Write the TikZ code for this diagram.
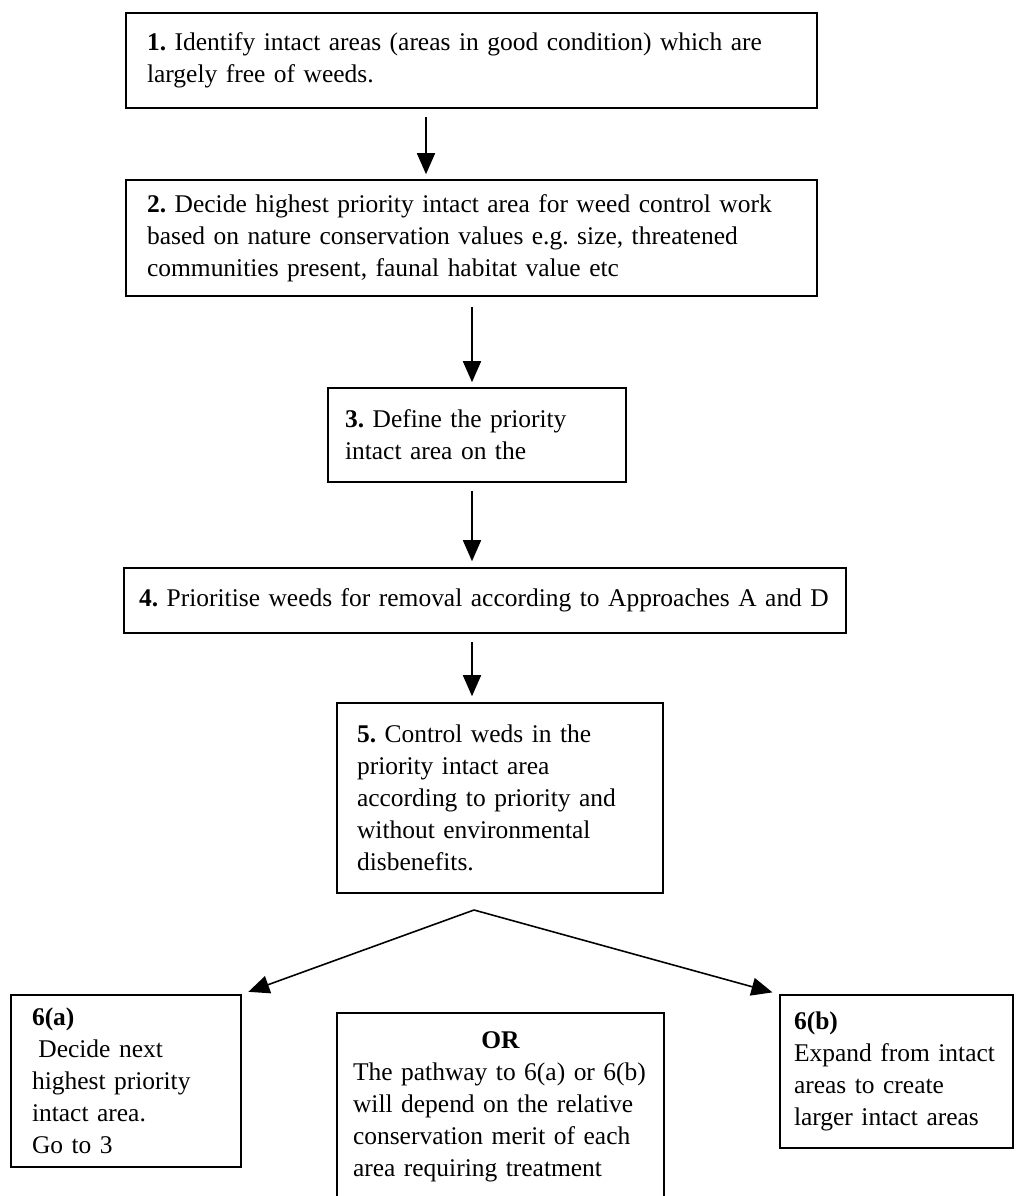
\documentclass[tikz,border=0pt]{standalone}
\usepackage{fontspec}
\setmainfont{Liberation Serif}
\usetikzlibrary{arrows.meta}

\begin{document}
\begin{tikzpicture}[x=0.02cm, y=-0.02cm,
  stepbox/.style={draw, line width=0.9pt, rectangle, align=left, inner ysep=0pt,
    font=\fontsize{14.5}{18.2}\selectfont\frenchspacing},
  arr/.style={line width=0.9pt, -{Triangle[length=0.42cm, width=0.36cm]}}]

  \useasboundingbox (0,0) rectangle (1016,1196);

  % steps 1 to 5
  \node[stepbox, inner xsep=0.42cm, text width=12.98cm, minimum height=1.9cm] (n1) at (471.5,60.5)
    {\textbf{1.} Identify intact areas (areas in good condition) which are\\largely free of weeds.};
  \node[stepbox, inner xsep=0.42cm, text width=12.98cm, minimum height=2.32cm] (n2) at (471.5,238)
    {\textbf{2.} Decide highest priority intact area for weed control work\\based on nature conservation values e.g. size, threatened\\communities present, faunal habitat value etc};
  \node[stepbox, inner xsep=0.34cm, text width=5.28cm, minimum height=1.88cm] (n3) at (477,435)
    {\textbf{3.} Define the priority\\intact area on the};
  \node[stepbox, inner xsep=0.3cm, text width=13.84cm, minimum height=1.3cm] (n4) at (485,600.5)
    {\textbf{4.} Prioritise weeds for removal according to Approaches A and D};
  \node[stepbox, inner xsep=0.4cm, text width=5.72cm, minimum height=3.8cm] (n5) at (500,798)
    {\textbf{5.} Control weds in the\\priority intact area\\according to priority and\\without environmental\\disbenefits.};

  % step 6 and the choice between
  \node[stepbox, inner xsep=0.42cm, text width=3.76cm, minimum height=3.44cm] (n6a) at (126,1081)
    {\textbf{6(a)}\\\hspace*{0.25em}Decide next\\highest priority\\intact area.\\Go to 3};
  \node[stepbox, inner xsep=0.28cm, text width=4.1cm, minimum height=3.06cm] (n6b) at (896.5,1071.5)
    {\textbf{6(b)}\\Expand from intact\\areas to create\\larger intact areas};
  \node[stepbox, inner xsep=0.32cm, text width=5.9cm, minimum height=3.74cm] (nor) at (500.5,1106.5)
    {\makebox[\linewidth]{\textbf{OR}}\\The pathway to 6(a) or 6(b)\\will depend on the relative\\conservation merit of each\\area requiring treatment};

  \coordinate (c1) at (426,0);
  \coordinate (c2) at (472,0);
  \coordinate (fork) at (474,910);

  \draw[arr, shorten <=0.16cm, shorten >=0.1cm] (n1.south -| c1) -- (n2.north -| c1);
  \draw[arr, shorten <=0.2cm, shorten >=0.1cm] (n2.south -| c2) -- (n3.north -| c2);
  \draw[arr, shorten <=0.16cm, shorten >=0.12cm] (n3.south -| c2) -- (n4.north -| c2);
  \draw[arr, shorten <=0.16cm, shorten >=0.12cm] (n4.south -| c2) -- (n5.north -| c2);
  \draw[arr, shorten >=0.14cm] (fork) -- (n6a.north east);
  \draw[arr, shorten >=0.14cm] (fork) -- (n6b.north west);
\end{tikzpicture}
\end{document}
